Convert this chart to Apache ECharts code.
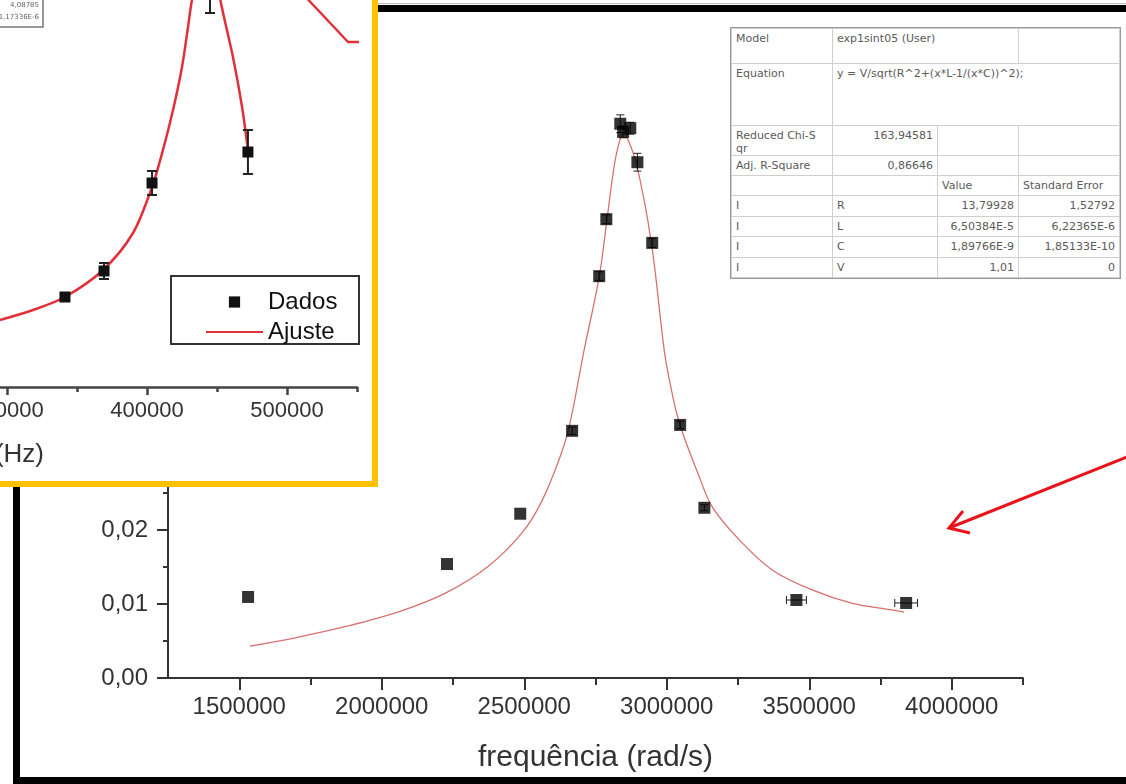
<!DOCTYPE html>
<html>
<head>
<meta charset="utf-8">
<script src="https://cdn.jsdelivr.net/npm/echarts@6/dist/echarts.min.js"></script>
<style>
  html, body { margin:0; padding:0; background:#fff; width:1126px; height:784px; overflow:hidden; position:relative; }
  #main { position:absolute; left:0; top:0; width:1126px; height:784px; }
  #topline { position:absolute; left:378px; top:3px; width:760px; height:1px; background:#bbb; }
  #frame { position:absolute; left:13px; top:5px; width:1200px; height:765px; border:7px solid #000; pointer-events:none; }
  #stats { position:absolute; left:731px; top:28px; width:388px; border-collapse:collapse; table-layout:fixed;
           font-family:'DejaVu Sans', sans-serif; font-size:11px; color:#5a5a5a; background:#fff; }
  #stats td { border:1px solid #cfcfcf; padding:3px 4px 0 4px; vertical-align:top; line-height:13px; white-space:nowrap; overflow:hidden; }
  #stats td.r { text-align:right; }
  #stats { outline:1px solid #999; }
  #inset { position:absolute; left:-6px; top:-6px; width:372px; height:481px; border:6px solid #FFC000; background:#fff; overflow:hidden; }
  #insetChart { position:absolute; left:-100px; top:-100px; width:472px; height:581px; }
</style>
</head>
<body>
<div id="main"></div>
<div id="topline"></div>
<div id="frame"></div>
<table id="stats">
  <colgroup><col style="width:101px"><col style="width:105px"><col style="width:81px"><col style="width:101px"></colgroup>
  <tr style="height:35px"><td>Model</td><td colspan="2">exp1sint05 (User)</td><td></td></tr>
  <tr style="height:62px"><td>Equation</td><td colspan="3">y = V/sqrt(R^2+(x*L-1/(x*C))^2);</td></tr>
  <tr style="height:30px"><td>Reduced Chi-S<br>qr</td><td class="r">163,94581</td><td></td><td></td></tr>
  <tr style="height:20px"><td>Adj. R-Square</td><td class="r">0,86646</td><td></td><td></td></tr>
  <tr style="height:20px"><td></td><td></td><td>Value</td><td>Standard Error</td></tr>
  <tr style="height:21px"><td>I</td><td>R</td><td class="r">13,79928</td><td class="r">1,52792</td></tr>
  <tr style="height:20px"><td>I</td><td>L</td><td class="r">6,50384E-5</td><td class="r">6,22365E-6</td></tr>
  <tr style="height:21px"><td>I</td><td>C</td><td class="r">1,89766E-9</td><td class="r">1,85133E-10</td></tr>
  <tr style="height:20px"><td>I</td><td>V</td><td class="r">1,01</td><td class="r">0</td></tr>
</table>
<div id="inset"><div id="insetChart"></div></div>
<script>
// ---------------- main chart data ----------------
const xTitle = 'frequência (rad/s)';
const dataX = [1531000, 2229000, 2486000, 2668000, 2763000, 2788000, 2837000, 2847000, 2872000, 2897000, 2949000, 3047000, 3132000, 3455000, 3840000];
const dataY = [0.01095, 0.0154, 0.0222, 0.0334, 0.0543, 0.0620, 0.0749, 0.0738, 0.0743, 0.0697, 0.0588, 0.0342, 0.0230, 0.01054, 0.01014];
const errX  = [0, 0, 0, 0, 0, 0, 0, 0, 0, 0, 0, 0, 0, 35000, 40000];
const errY  = [0, 0, 0, 0.0005, 0.0006, 0.0006, 0.0012, 0.0008, 0.0008, 0.0012, 0.0006, 0.0005, 0.0004, 0, 0];
const fitX = [1537000, 1692000, 1878000, 2064000, 2225000, 2374000, 2492000, 2559000, 2622000, 2658000, 2710000, 2763000, 2791000, 2819000, 2840000, 2849000, 2858000, 2893000, 2946000, 2991000, 3009000, 3044000, 3114000, 3160000, 3254000, 3370000, 3510000, 3651000, 3791000, 3833000];
const fitY = [0.0043, 0.0054, 0.0070, 0.0090, 0.0115, 0.0151, 0.0196, 0.0237, 0.0295, 0.0340, 0.0443, 0.0542, 0.0622, 0.0700, 0.0733, 0.0737, 0.0733, 0.0696, 0.0588, 0.0443, 0.0403, 0.0345, 0.0272, 0.0231, 0.0187, 0.0146, 0.0119, 0.0101, 0.0092, 0.0089];
const xMajor = [1500000, 2000000, 2500000, 3000000, 3500000, 4000000];
const xMinor = [1750000, 2250000, 2750000, 3250000, 3750000, 4250000];
const yMajor = [0, 0.01, 0.02, 0.03, 0.04, 0.05, 0.06, 0.07, 0.08];
const yMinor = [0.005, 0.015, 0.025, 0.035, 0.045, 0.055, 0.065, 0.075];

// ---------------- inset chart data ----------------
const insetTitle = 'Frequência (Hz)';
const insetX = [341400, 369300, 403600, 445000, 472100];
const insetY = [90, 116, 204, 397, 235];
const insetErr = [3, 8, 12, 23, 22];
const insetFitX = [295000, 318600, 341400, 368600, 390000, 403600, 411400, 418600, 425000, 429300, 432100, 443600, 452000, 461400, 467900, 472100];
const insetFitY = [67, 77, 90, 117, 154, 200, 237, 277, 320, 360, 387, 467, 390, 330, 280, 237];
const insetExtraX = [510000, 543600, 565000];
const insetExtraY = [395, 345, 345];
const insetMajor = [300000, 400000, 500000];
const insetMinor = [350000, 450000, 550000];
const insetTableText = ['4,08785', '1,17336E-6'];

const fontF = "'Liberation Sans', Arial, sans-serif";
const axisCol = '#333';

function errRenderer(capHalf, col, lw) {
  return function (params, api) {
    const x = api.value(0), y = api.value(1), xe = api.value(2), ye = api.value(3);
    const children = [];
    const st = { stroke: col, lineWidth: lw };
    if (ye > 0) {
      const t = api.coord([x, y + ye]), b = api.coord([x, y - ye]);
      children.push({ type: 'line', shape: { x1: t[0], y1: t[1], x2: b[0], y2: b[1] }, style: st });
      children.push({ type: 'line', shape: { x1: t[0] - capHalf, y1: t[1], x2: t[0] + capHalf, y2: t[1] }, style: st });
      children.push({ type: 'line', shape: { x1: b[0] - capHalf, y1: b[1], x2: b[0] + capHalf, y2: b[1] }, style: st });
    }
    if (xe > 0) {
      const l = api.coord([x - xe, y]), r = api.coord([x + xe, y]);
      children.push({ type: 'line', shape: { x1: l[0], y1: l[1], x2: r[0], y2: r[1] }, style: st });
      children.push({ type: 'line', shape: { x1: l[0], y1: l[1] - capHalf, x2: l[0], y2: l[1] + capHalf }, style: st });
      children.push({ type: 'line', shape: { x1: r[0], y1: r[1] - capHalf, x2: r[0], y2: r[1] + capHalf }, style: st });
    }
    return { type: 'group', children: children };
  };
}

const mainChart = echarts.init(document.getElementById('main'));
mainChart.setOption({
  animation: false,
  backgroundColor: '#fff',
  grid: { left: 168, right: 103, top: 86, bottom: 106 },
  xAxis: [
    { type: 'value', min: 1250000, max: 4250000, interval: 250000, position: 'bottom',
      axisLine: { show: true, onZero: false, lineStyle: { color: axisCol, width: 2 } },
      axisTick: { show: true, length: 12, customValues: xMajor, lineStyle: { color: axisCol, width: 2 } },
      axisLabel: { customValues: xMajor, formatter: v => String(v), fontSize: 24, color: axisCol, margin: 17, fontFamily: fontF },
      splitLine: { show: false },
      name: xTitle, nameLocation: 'middle', nameGap: 65,
      nameTextStyle: { fontSize: 30, color: axisCol, fontFamily: fontF } },
    { type: 'value', min: 1250000, max: 4250000, interval: 250000, position: 'bottom',
      axisLine: { show: false },
      axisTick: { show: true, length: 7, customValues: xMinor, lineStyle: { color: axisCol, width: 2 } },
      axisLabel: { show: false }, splitLine: { show: false } }
  ],
  yAxis: [
    { type: 'value', min: 0, max: 0.08, interval: 0.01, position: 'left',
      axisLine: { show: true, onZero: false, lineStyle: { color: axisCol, width: 2 } },
      axisTick: { show: true, length: 11, customValues: yMajor, lineStyle: { color: axisCol, width: 2 } },
      axisLabel: { customValues: yMajor, formatter: v => v.toFixed(2).replace('.', ','), fontSize: 24, color: axisCol, margin: 20, fontFamily: fontF },
      splitLine: { show: false } },
    { type: 'value', min: 0, max: 0.08, interval: 0.01, position: 'left',
      axisLine: { show: false },
      axisTick: { show: true, length: 5, customValues: yMinor, lineStyle: { color: axisCol, width: 2 } },
      axisLabel: { show: false }, splitLine: { show: false } }
  ],
  series: [
    { name: 'Ajuste', type: 'line', xAxisIndex: 0, yAxisIndex: 0, smooth: 0.35, symbol: 'none',
      lineStyle: { color: '#d97070', width: 1.3 }, z: 2,
      data: fitX.map((x, i) => [x, fitY[i]]) },
    { name: 'erros', type: 'custom', xAxisIndex: 0, yAxisIndex: 0, z: 3,
      renderItem: errRenderer(4, '#222', 1),
      encode: { x: 0, y: 1 },
      data: dataX.map((x, i) => [x, dataY[i], errX[i], errY[i]]) },
    { name: 'Dados', type: 'scatter', xAxisIndex: 0, yAxisIndex: 0, symbol: 'rect', symbolSize: 12, z: 4,
      itemStyle: { color: '#000' },
      data: dataX.map((x, i) => [x, dataY[i]]) }
  ],
  graphic: [
    { type: 'line', shape: { x1: 1132, y1: 455, x2: 949, y2: 528 }, style: { stroke: '#e8141c', lineWidth: 3 }, z: 10 },
    { type: 'polyline', shape: { points: [[963, 511], [949, 528], [970, 533]] }, style: { stroke: '#e8141c', lineWidth: 3, fill: null }, z: 10 }
  ]
});

const insetChart = echarts.init(document.getElementById('insetChart'));
insetChart.setOption({
  animation: false,
  backgroundColor: '#fff',
  grid: { left: 37, right: 15, top: 0, bottom: 94 },
  xAxis: [
    { type: 'value', min: 250000, max: 550000, interval: 50000, position: 'bottom',
      axisLine: { show: true, onZero: false, lineStyle: { color: '#444', width: 2.5 } },
      axisTick: { show: true, length: 8, customValues: insetMajor, lineStyle: { color: '#444', width: 2.5 } },
      axisLabel: { customValues: insetMajor, formatter: v => String(v), fontSize: 22, color: '#333', margin: 13, fontFamily: fontF },
      splitLine: { show: false } },
    { type: 'value', min: 250000, max: 550000, interval: 50000, position: 'bottom',
      axisLine: { show: false },
      axisTick: { show: true, length: 5, customValues: insetMinor, lineStyle: { color: '#444', width: 2.5 } },
      axisLabel: { show: false }, splitLine: { show: false } }
  ],
  yAxis: { type: 'value', min: 0, max: 487, show: false },
  legend: {
    left: 300, top: 385, orient: 'vertical', itemWidth: 57, itemHeight: 14, itemGap: 6,
    selectedMode: false,
    textStyle: { fontSize: 24, color: '#111', lineHeight: 24, fontFamily: fontF },
    data: [{ name: 'Dados' }, { name: 'Ajuste', itemStyle: { opacity: 0 } }]
  },
  series: [
    { name: 'Ajuste', type: 'line', smooth: 0.3, symbol: 'none', clip: false,
      lineStyle: { color: '#e0303a', width: 2.5 }, itemStyle: { color: '#e0303a' }, z: 2,
      data: insetFitX.map((x, i) => [x, insetFitY[i]]) },
    { name: 'extra', type: 'line', symbol: 'none', clip: false,
      lineStyle: { color: '#e0303a', width: 2.5 }, z: 2,
      data: insetExtraX.map((x, i) => [x, insetExtraY[i]]) },
    { name: 'erros', type: 'custom', z: 3, clip: false,
      renderItem: errRenderer(5, '#222', 2),
      encode: { x: 0, y: 1 },
      data: insetX.map((x, i) => [x, insetY[i], 0, insetErr[i]]) },
    { name: 'Dados', type: 'line', symbol: 'rect', symbolSize: 11, showSymbol: true, z: 4,
      lineStyle: { width: 0, opacity: 0 }, itemStyle: { color: '#111' },
      data: insetX.map((x, i) => [x, insetY[i]]) }
  ],
  graphic: [
    { type: 'rect', shape: { x: 271, y: 376, width: 188, height: 68 }, style: { fill: null, stroke: '#333', lineWidth: 2 }, z: 0 },
    { type: 'text', style: { text: insetTitle, x: 144, y: 555, align: 'right', verticalAlign: 'middle', font: "26px 'Liberation Sans', Arial, sans-serif", fill: '#333' } },
    { type: 'rect', shape: { x: 40, y: 95, width: 103, height: 32 }, style: { fill: '#fff', stroke: '#777', lineWidth: 1.5 } },
    { type: 'text', style: { text: insetTableText[0], x: 139, y: 105, align: 'right', verticalAlign: 'middle', font: "7px 'DejaVu Sans', sans-serif", fill: '#666' } },
    { type: 'text', style: { text: insetTableText[1], x: 139, y: 117, align: 'right', verticalAlign: 'middle', font: "7px 'DejaVu Sans', sans-serif", fill: '#666' } }
  ]
});
</script>
</body>
</html>
